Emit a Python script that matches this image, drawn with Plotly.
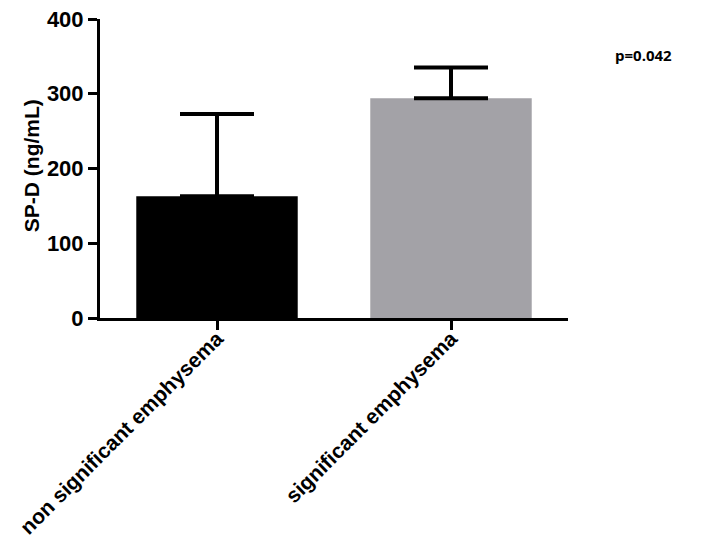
import plotly.graph_objects as go

groups = ["non significant emphysema", "significant emphysema"]
means = [163, 294]
sd_upper = [110, 41]
colors = ["#000000", "#a3a2a7"]

# the page body adds an 8px margin, so margins below are reduced by 8
fig = go.Figure()
fig.add_trace(go.Bar(
    x=groups, y=means,
    marker=dict(color=colors, line=dict(width=0)),
    width=0.69,
    error_y=dict(type="data", symmetric=False, array=sd_upper, arrayminus=[0, 0],
                 color="black", thickness=4, width=37),
))

fig.add_annotation(text="<b>p=0.042</b>", xref="paper", yref="paper",
                   x=1.226, y=0.88, xanchor="right", yanchor="middle", showarrow=False,
                   font=dict(family="Open Sans", size=15, color="black"))
fig.add_annotation(text="<b>SP-D (ng/mL)</b>", xref="paper", yref="paper",
                   x=-0.146, y=0.51, xanchor="center", yanchor="middle",
                   textangle=-90, showarrow=False,
                   font=dict(family="Liberation Sans", size=21, color="black"))

fig.update_layout(
    width=693, height=546,
    margin=dict(l=92, r=133, t=11, b=236, autoexpand=False),
    plot_bgcolor="white", paper_bgcolor="white",
    showlegend=False,
    xaxis=dict(range=[-0.5, 1.5], showline=True, linecolor="black", linewidth=3,
               ticks="outside", ticklen=9, tickwidth=3, tickcolor="black",
               tickangle=-45, automargin=False,
               tickfont=dict(family="Liberation Sans", size=21, color="black"),
               ticklabelstandoff=-12, ticklabeloverflow="allow",
               tickvals=groups, ticktext=["<b>%s</b>" % g for g in groups]),
    yaxis=dict(range=[0, 400], tickvals=[0, 100, 200, 300, 400],
               ticktext=["<b>%d</b>" % v for v in [0, 100, 200, 300, 400]],
               showline=True, linecolor="black", linewidth=3, showgrid=False,
               zeroline=False, ticks="outside", ticklen=9, tickwidth=3, tickcolor="black",
               tickfont=dict(family="Liberation Sans", size=22, color="black"),
               ticklabeloverflow="allow", automargin=False),
)

fig.write_html("out.html")
